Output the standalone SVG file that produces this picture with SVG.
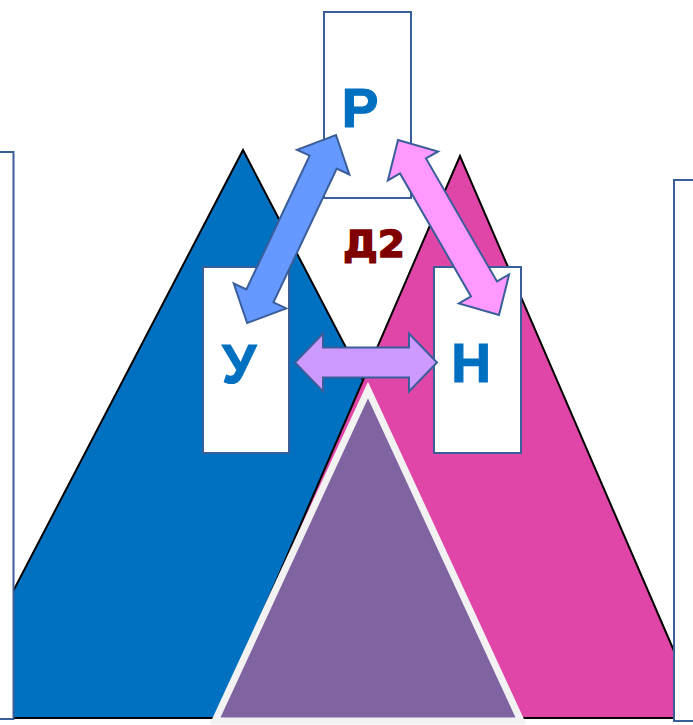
<svg xmlns="http://www.w3.org/2000/svg" width="693" height="725" viewBox="0 0 693 725">
  <style>
    .tri { stroke: #000000; stroke-width: 2; stroke-linejoin: miter; }
    .box { fill: #ffffff; stroke: #3a5e9a; stroke-width: 2; }
    .arrow { stroke: #3a5e9a; stroke-width: 2; stroke-linejoin: miter; }
    .lbl { font-family: "Liberation Sans", Arial, sans-serif; font-weight: bold; font-size: 55px; fill: #0070c0; stroke: #0070c0; stroke-width: 1.2; text-anchor: middle; }
    .d2 { font-family: "DejaVu Sans", Verdana, sans-serif; font-weight: bold; font-size: 38px; fill: #800000; stroke: #800000; stroke-width: 1.4; }
  </style>
  <rect width="693" height="725" fill="#ffffff"/>

  <g id="triangles">
    <polygon id="blue-triangle" class="tri" fill="#0070c0" points="243,150 -53,718 539,718"/>
    <polygon id="pink-triangle" class="tri" fill="#e046a8" points="460,156 217,718 703,718"/>
    <polygon id="purple-triangle" fill="#8064a2" stroke="#f2f2f2" stroke-width="7" points="368,390 215,721 521,721"/>
  </g>

  <g id="side-boxes">
    <rect id="left-box" class="box" x="-10" y="152" width="23.5" height="567"/>
    <rect id="right-box" class="box" x="674" y="180" width="30" height="541"/>
  </g>

  <g id="node-P">
    <rect class="box" x="324" y="12" width="87" height="186"/>
    <text class="lbl" x="360" y="127">Р</text>
  </g>
  <g id="node-U">
    <rect class="box" x="203" y="267" width="86" height="186"/>
    <text class="lbl" x="239" y="383">У</text>
  </g>
  <g id="node-N">
    <rect class="box" x="434" y="267" width="87" height="186"/>
    <text class="lbl" x="471" y="382">Н</text>
  </g>

  <g id="label-D2">
    <text class="d2" x="343" y="257" textLength="62" lengthAdjust="spacingAndGlyphs">Д2</text>
  </g>

  <g id="connectors">
    <path id="arrow-P-U" class="arrow" fill="#6699ff" transform="translate(336,135) rotate(115.3)"
          d="M0,0 L30,-29 L30,-15 L178,-15 L178,-29 L208,0 L178,29 L178,15 L30,15 L30,29 Z"/>
    <path id="arrow-P-N" class="arrow" fill="#ff99ff" transform="translate(398,140) rotate(60)"
          d="M0,0 L30,-29 L30,-15 L172,-15 L172,-29 L202,0 L172,29 L172,15 L30,15 L30,29 Z"/>
    <path id="arrow-U-N" class="arrow" fill="#cc99ff" transform="translate(295,362.5)"
          d="M0,0 L28,-29 L28,-15 L114,-15 L114,-29 L142,0 L114,29 L114,15 L28,15 L28,29 Z"/>
  </g>
</svg>
